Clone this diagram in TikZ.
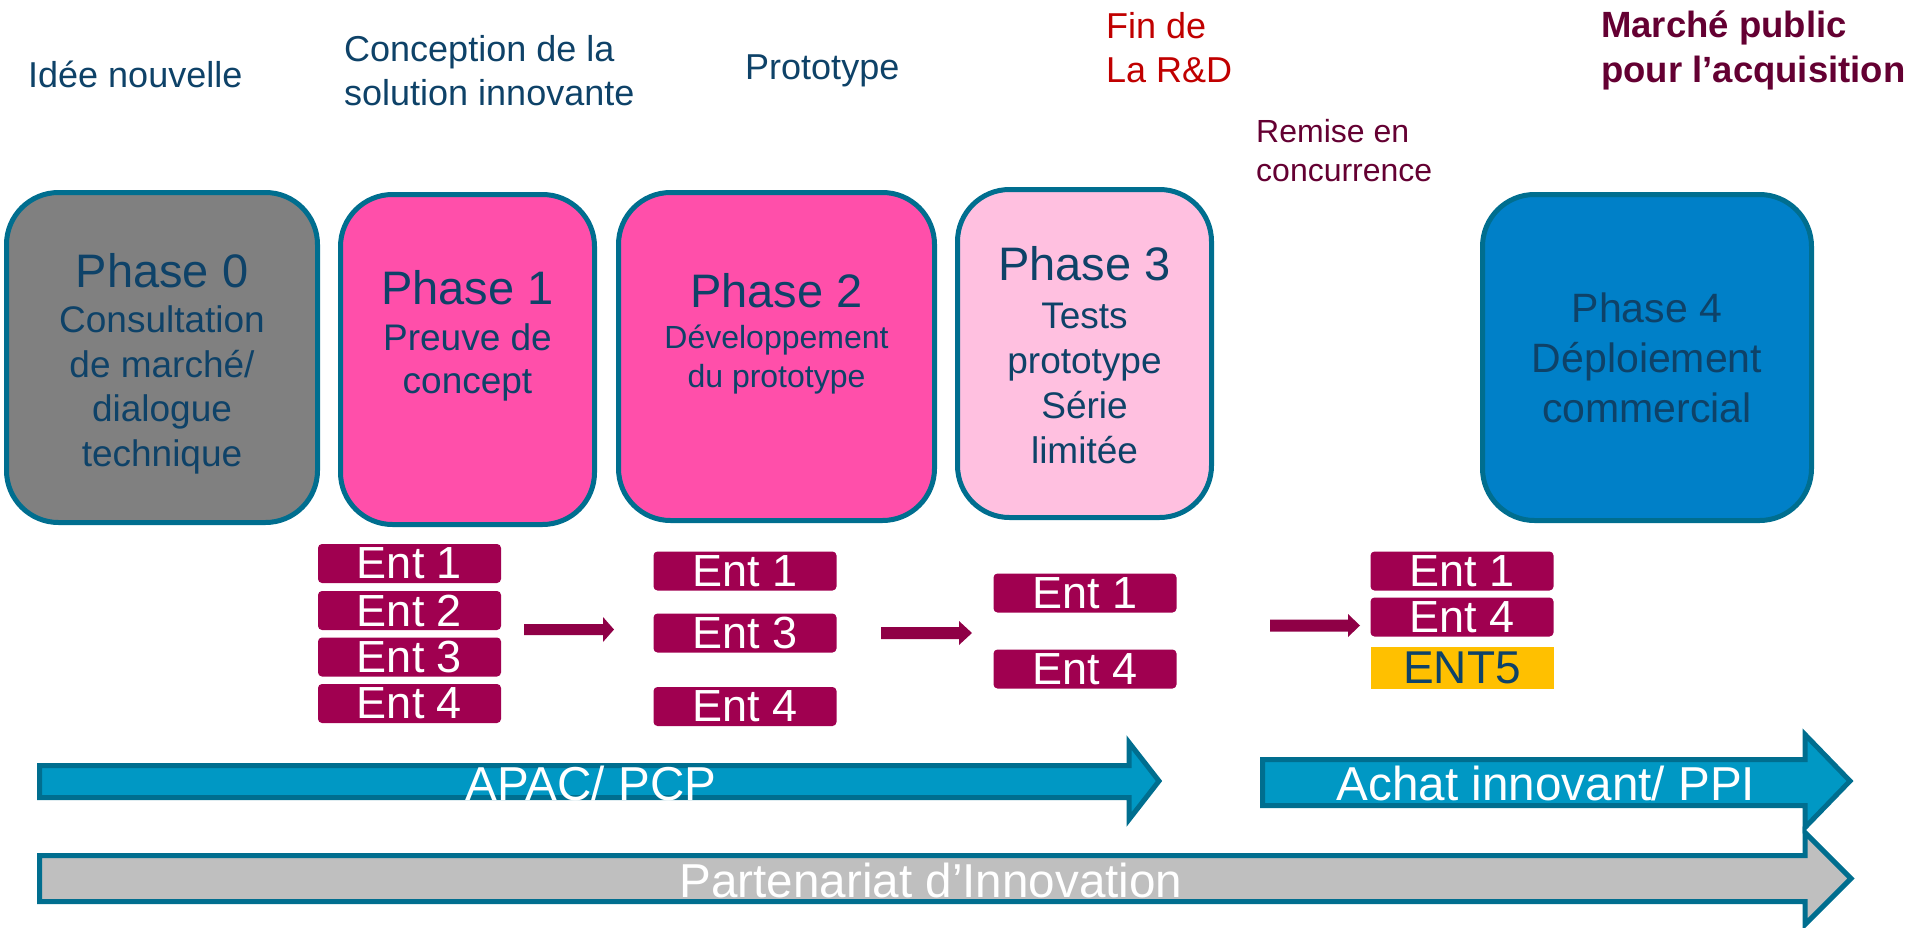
\documentclass[tikz,border=0pt]{standalone}
\usepackage{fontspec}
\setmainfont{Liberation Sans}
\definecolor{navy}{RGB}{14,66,104}
\definecolor{tealb}{RGB}{0,110,143}
\definecolor{gph}{RGB}{128,128,128}
\definecolor{pinkh}{RGB}{255,79,170}
\definecolor{pinkl}{RGB}{255,192,224}
\definecolor{blueph}{RGB}{0,128,200}
\definecolor{entm}{RGB}{160,0,80}
\definecolor{arrm}{RGB}{143,0,70}
\definecolor{yel}{RGB}{255,192,0}
\definecolor{redf}{RGB}{192,0,0}
\definecolor{acqm}{RGB}{100,0,50}
\definecolor{apacf}{RGB}{0,152,196}
\definecolor{grayarr}{RGB}{191,191,191}
\begin{document}
\begin{tikzpicture}[x=1pt,y=-1pt,
  phase/.style={draw=tealb, line width=5pt, rounded corners=52pt, inner sep=0pt},
  ptitle/.style={text=navy, font=\fontsize{47}{52}\selectfont, anchor=base, inner sep=0pt},
  psub/.style={text=navy, align=center, anchor=base, inner sep=0pt},
  ent/.style={fill=entm, rounded corners=4pt, minimum width=183pt, minimum height=39pt, inner sep=0pt, text=white, font=\fontsize{45}{45}\selectfont},
  toplab/.style={anchor=base west, align=left, inner sep=0pt, font=\fontsize{36}{44}\selectfont},
  bigtext/.style={text=white, anchor=base, inner sep=0pt, font=\fontsize{47.6}{50}\selectfont},
  bigarrow/.style={draw=tealb, line width=5pt, line join=miter},
  smallarrow/.style={fill=arrm}
]
\useasboundingbox (0,0) rectangle (1915,927);

% top labels (multi-line nodes: anchor base = last line)
\node[toplab, text=navy] (l0) at (28,87) {Idée nouvelle};
\node[toplab, text=navy] (l1) at (344,105) {Conception de la\\solution innovante};
\node[toplab, text=navy] (l2) at (745,79) {Prototype};
\node[toplab, text=redf] (l3) at (1106,82) {Fin de\\La R\&D};
\node[toplab, text=acqm, font=\fontsize{32}{39}\selectfont] (l4) at (1256,181) {Remise en\\concurrence};
\node[toplab, text=acqm, font=\fontsize{36.5}{45}\bfseries] (l5) at (1601,82) {Marché public\\pour l’acquisition};

% phase boxes
\node[phase, fill=gph, minimum width=311pt, minimum height=330pt] (p0) at (162,357.5) {};
\node[ptitle] (p0t) at (162,287) {Phase 0};
\node[psub, font=\fontsize{37}{44.5}\selectfont] (p0s) at (162,466) {Consultation\\de marché/\\dialogue\\technique};

\node[phase, fill=pinkh, minimum width=254pt, minimum height=330pt] (p1) at (467.5,359.5) {};
\node[ptitle] (p1t) at (467.5,304) {Phase 1};
\node[psub, font=\fontsize{37}{43}\selectfont] (p1s) at (467.5,393) {Preuve de\\concept};

\node[phase, fill=pinkh, minimum width=316pt, minimum height=328pt] (p2) at (776.5,356.5) {};
\node[ptitle] (p2t) at (776.5,307) {Phase 2};
\node[psub, font=\fontsize{32}{39}\selectfont] (p2s) at (776.5,387) {Développement\\du prototype};

\node[phase, fill=pinkl, minimum width=254pt, minimum height=328pt] (p3) at (1084.5,353.5) {};
\node[ptitle] (p3t) at (1084.5,280) {Phase 3};
\node[psub, font=\fontsize{37}{45}\selectfont] (p3s) at (1084.5,463) {Tests\\prototype\\Série\\limitée};

\node[phase, fill=blueph, minimum width=329pt, minimum height=326pt] (p4) at (1647,357.5) {};
\node[ptitle, font=\fontsize{41}{50}\selectfont] (p4t) at (1647,322) {Phase 4};
\node[psub, font=\fontsize{41}{50}\selectfont] (p4s) at (1647,422) {Déploiement\\commercial};

% enterprises
\node[ent] (e11) at (409.5,563.5) {Ent 1};
\node[ent] (e12) at (409.5,610.5) {Ent 2};
\node[ent] (e13) at (409.5,657) {Ent 3};
\node[ent] (e14) at (409.5,703.5) {Ent 4};

\node[ent] (e21) at (745,571) {Ent 1};
\node[ent] (e23) at (745,633) {Ent 3};
\node[ent] (e24) at (745,706.5) {Ent 4};

\node[ent] (e31) at (1085,593) {Ent 1};
\node[ent] (e34) at (1085,669) {Ent 4};

\node[ent] (e41) at (1462,571) {Ent 1};
\node[ent] (e44) at (1462,617) {Ent 4};
\node[ent, fill=yel, rounded corners=0pt, minimum height=42pt, text=navy, font=\fontsize{46}{46}\selectfont] (e45) at (1462,668) {ENT5};

% small arrows
\fill[smallarrow] (524,624) -- (603,624) -- (603,617) -- (614,629.5) -- (603,642) -- (603,635) -- (524,635) -- cycle;
\fill[smallarrow] (881,627) -- (959,627) -- (959,621) -- (972,633) -- (959,645) -- (959,639) -- (881,639) -- cycle;
\fill[smallarrow] (1270,619.5) -- (1348,619.5) -- (1348,614) -- (1360,625.5) -- (1348,637) -- (1348,631.5) -- (1270,631.5) -- cycle;

% big arrows
\draw[bigarrow, fill=apacf] (39.5,765.5) -- (1129,765.5) -- (1129,742.5) -- (1159,781) -- (1129,819.5) -- (1129,797.5) -- (39.5,797.5) -- cycle;
\node[bigtext] (apac) at (591,800) {APAC/ PCP};

\draw[bigarrow, fill=apacf] (1262.5,759.5) -- (1805,759.5) -- (1805,734.5) -- (1850,781) -- (1805,827.5) -- (1805,805.5) -- (1262.5,805.5) -- cycle;
\node[bigtext] (achat) at (1546,800) {Achat innovant/ PPI};

\draw[bigarrow, fill=grayarr] (39.5,855.5) -- (1805,855.5) -- (1805,832.5) -- (1851,878.5) -- (1805,924.5) -- (1805,901.5) -- (39.5,901.5) -- cycle;
\node[bigtext] (part) at (931,897) {Partenariat d’Innovation};
\end{tikzpicture}
\end{document}
